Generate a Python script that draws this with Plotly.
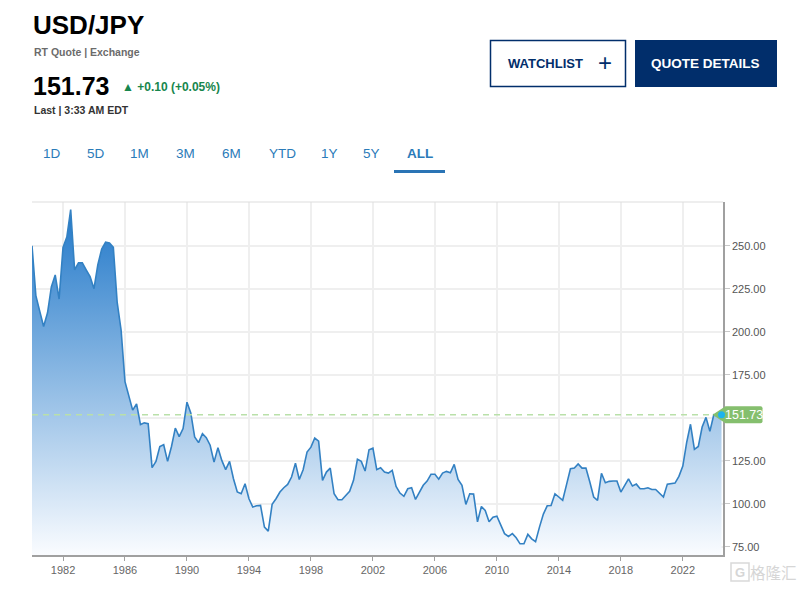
import plotly.graph_objects as go
import pandas as pd

# ---------------- data ----------------
start_date = "1980-01-01"
usd_jpy = [
    250, 221, 212, 203,          # 1980
    211, 226, 233, 219,          # 1981
    249, 255, 271, 236,          # 1982
    240, 240, 236, 232,          # 1983
    225, 239, 248, 252,          # 1984
    251.6, 249, 217, 201,        # 1985
    171, 163.5, 154.4, 158,      # 1986
    146, 147, 146.5, 121,        # 1987
    124.6, 133.3, 134.3, 124.6,  # 1988
    133.3, 144, 139, 143.7,      # 1989
    159, 152.8, 138.8, 135.5,    # 1990
    140.7, 138.4, 134, 124.2,    # 1991
    132.6, 125.2, 119.8, 124.6,  # 1992
    114.5, 106.8, 105.8, 111.6,  # 1993
    102.9, 98.1, 98.8, 99,       # 1994
    86.4, 84.1, 99.6, 102.9,     # 1995
    106.8, 109.3, 111.2, 115.5,  # 1996
    123.6, 114.1, 119.8, 130,    # 1997
    132.9, 138.2, 136.4, 113.6,  # 1998
    118.4, 120.7, 105.8, 102.3,  # 1999
    102.3, 104.8, 107.2, 113.6,  # 2000
    125.8, 124.6, 119, 131.4,    # 2001
    132.3, 119.8, 120.9, 118.4,  # 2002
    117.8, 119.4, 110.1, 106.2,  # 2003
    104.3, 108.7, 109.3, 102.5,  # 2004
    106.8, 110.7, 113.2, 117.1,  # 2005
    117.1, 114.3, 117.8, 118.8,  # 2006
    118, 122.9, 114.1, 110.7,    # 2007
    99.6, 105.8, 105.6, 89.5,    # 2008
    98.4, 96.1, 89.5, 92.2,      # 2009
    92.8, 87.4, 82.6, 81,        # 2010
    82.6, 80.2, 76.7, 76.7,      # 2011
    82.2, 79.6, 77.9, 86.4,      # 2012
    94, 98.8, 99, 105.8,         # 2013
    103.9, 102, 111.1, 120.3,    # 2014
    120.7, 123.1, 120.7, 120.7,  # 2015
    112.6, 103.9, 102, 117.7,    # 2016
    112.2, 113, 113.2, 113.2,    # 2017
    106.8, 111.1, 114.5, 110.3,  # 2018
    111.4, 108.7, 108.7, 109.3,  # 2019
    108.3, 108.3, 105.8, 103.9,  # 2020
    111.4, 111.6, 112, 115.9,    # 2021
    121.9, 135.5, 146.2, 131.6,  # 2022
    133.3, 144.6, 150.2, 142.1,  # 2023
    151.7, 151.2, 151.73,        # 2024
]
last_price = 151.73
y_ticks = [75, 100, 125, 150, 175, 200, 225, 250]
y_hidden_label = 150  # covered by the price tag in the reference
x_tick_years = [1982, 1986, 1990, 1994, 1998, 2002, 2006, 2010, 2014, 2018, 2022]
tabs = ["1D", "5D", "1M", "3M", "6M", "YTD", "1Y", "5Y", "ALL"]

dates = pd.date_range(start_date, periods=len(usd_jpy), freq="QS")

# ---------------- geometry ----------------
W, H = 805, 589
L, R, T, B = 32, 723, 202, 555
PW, PH = R - L, B - T
Y_MIN, Y_MAX = 70.2, 275.4
X_RANGE = ["1980-01-01", "2024-08-05"]


def px(X):
    return (X - L) / PW


def py(Y):
    return (B - Y) / PH


FONT = "Liberation Sans, Arial, sans-serif"
NAVY = "#012e6b"
BLUE_TXT = "#2b7bb9"

fig = go.Figure()
fig.add_trace(go.Scatter(
    x=dates, y=usd_jpy, mode="lines",
    line=dict(color="#3381c3", width=1.6),
    fill="tozeroy",
    fillgradient=dict(type="vertical", start=Y_MIN, stop=Y_MAX,
                      colorscale=[[0, "rgb(250,252,255)"], [1, "rgb(30,118,200)"]]),
    hoverinfo="skip", showlegend=False,
))

shapes = []
shapes.append(dict(type="line", xref="paper", yref="paper", x0=0, x1=1, y0=1, y1=1,
                   line=dict(color="#dddddd", width=1)))
shapes.append(dict(type="line", xref="paper", yref="y", x0=0, x1=1,
                   y0=last_price, y1=last_price,
                   line=dict(color="#b9e0a9", width=1.5, dash="6px,5px")))
tag_x = (dates[-1] - pd.Timestamp(X_RANGE[0])) / (pd.Timestamp(X_RANGE[1]) - pd.Timestamp(X_RANGE[0]))
tag_y = (last_price - Y_MIN) / (Y_MAX - Y_MIN)
shapes.append(dict(type="path", xref="paper", yref="paper", xsizemode="pixel", ysizemode="pixel",
                   xanchor=tag_x, yanchor=tag_y,
                   path="M -9,0 L 4,-8.5 L 39,-8.5 Q 41,-8.5 41,-6.5 L 41,6.5 Q 41,8.5 39,8.5 L 4,8.5 Z",
                   fillcolor="#85bf6e", line=dict(width=0)))
shapes.append(dict(type="circle", xref="paper", yref="paper", xsizemode="pixel", ysizemode="pixel",
                   xanchor=tag_x, yanchor=tag_y, x0=-3.5, x1=3.5, y0=-3.5, y1=3.5,
                   fillcolor="#1db3ee", line=dict(width=0)))
shapes.append(dict(type="rect", xref="paper", yref="paper",
                   x0=px(490.5), x1=px(625.5), y0=py(40.5), y1=py(86.5),
                   fillcolor="white", line=dict(color=NAVY, width=1.5)))
shapes.append(dict(type="rect", xref="paper", yref="paper",
                   x0=px(635), x1=px(777), y0=py(40), y1=py(87),
                   fillcolor=NAVY, line=dict(width=0)))
shapes.append(dict(type="rect", xref="paper", yref="paper",
                   x0=px(394), x1=px(445), y0=py(170), y1=py(173),
                   fillcolor="#2a74b5", line=dict(width=0)))
# watermark logo box
shapes.append(dict(type="rect", xref="paper", yref="paper",
                   x0=px(731), x1=px(749), y0=py(563), y1=py(581),
                   fillcolor="rgba(0,0,0,0)", line=dict(color="#d9d9d9", width=1.5)))

ann = []


def text(X, Y, s, size, color, bold=False, xanchor="left", family=FONT):
    ann.append(dict(x=px(X), y=py(Y), xref="paper", yref="paper", text=(f"<b>{s}</b>" if bold else s),
                    showarrow=False, xanchor=xanchor, yanchor="middle",
                    font=dict(family=family, size=size, color=color)))


text(31, 25, "USD/JPY", 26, "#000000", bold=True)
text(32, 51.5, "RT Quote | Exchange", 10.5, "#6b6b6b", bold=True)
text(31, 86, "151.73", 25, "#000000", bold=True)
text(120, 87, "▲ +0.10 (+0.05%)", 12, "#17864d", bold=True)
text(32, 110, "Last | 3:33 AM EDT", 10.5, "#333333", bold=True)
text(545, 63.5, "WATCHLIST", 13, NAVY, bold=True, xanchor="center")
text(605, 62.5, "+", 24, NAVY, xanchor="center")
text(705.5, 63.5, "QUOTE DETAILS", 13.5, "white", bold=True, xanchor="center")

tab_x = [52, 96, 139, 185, 231, 282, 329.5, 371.5, 420]
for t, xc in zip(tabs, tab_x):
    text(xc, 153.5, t, 13.5, BLUE_TXT, bold=(t == "ALL"), xanchor="center")

ann.append(dict(x=tag_x, y=tag_y, xref="paper", yref="paper", text="151.73", showarrow=False,
                xanchor="center", yanchor="middle", xshift=22,
                font=dict(family=FONT, size=12.5, color="white")))

# watermark
text(740, 572, "G", 13, "#d6d6d6", bold=True, xanchor="center")
text(773.5, 572, "格隆汇", 15.5, "#d6d6d6", xanchor="center", family="Noto Sans CJK SC")

fig.update_layout(
    width=W, height=H,
    margin=dict(l=L, r=W - R, t=T, b=H - B),
    paper_bgcolor="white", plot_bgcolor="white",
    shapes=shapes, annotations=ann, showlegend=False,
    xaxis=dict(
        type="date", range=X_RANGE,
        tickvals=[f"{y}-01-01" for y in x_tick_years],
        ticktext=[str(y) for y in x_tick_years],
        showgrid=True, gridcolor="#efefef", gridwidth=1.5,
        showline=True, linecolor="#a0a0a0", linewidth=1.5,
        ticks="outside", ticklen=4, tickcolor="#a0a0a0",
        tickfont=dict(family=FONT, size=11, color="#666666"),
        zeroline=False, fixedrange=True,
    ),
    yaxis=dict(
        side="right", range=[Y_MIN, Y_MAX],
        tickvals=y_ticks,
        ticktext=["" if v == y_hidden_label else f"{v:.2f}" for v in y_ticks],
        showgrid=True, gridcolor="#efefef", gridwidth=1.5,
        showline=True, linecolor="#a0a0a0", linewidth=1.5,
        ticks="outside", ticklen=5, tickcolor="#c8c8c8",
        tickfont=dict(family=FONT, size=11, color="#555555"),
        zeroline=False, fixedrange=True,
    ),
)

fig.write_html("out.html", config={"displayModeBar": False},
               post_script="document.body.style.margin='0';")
